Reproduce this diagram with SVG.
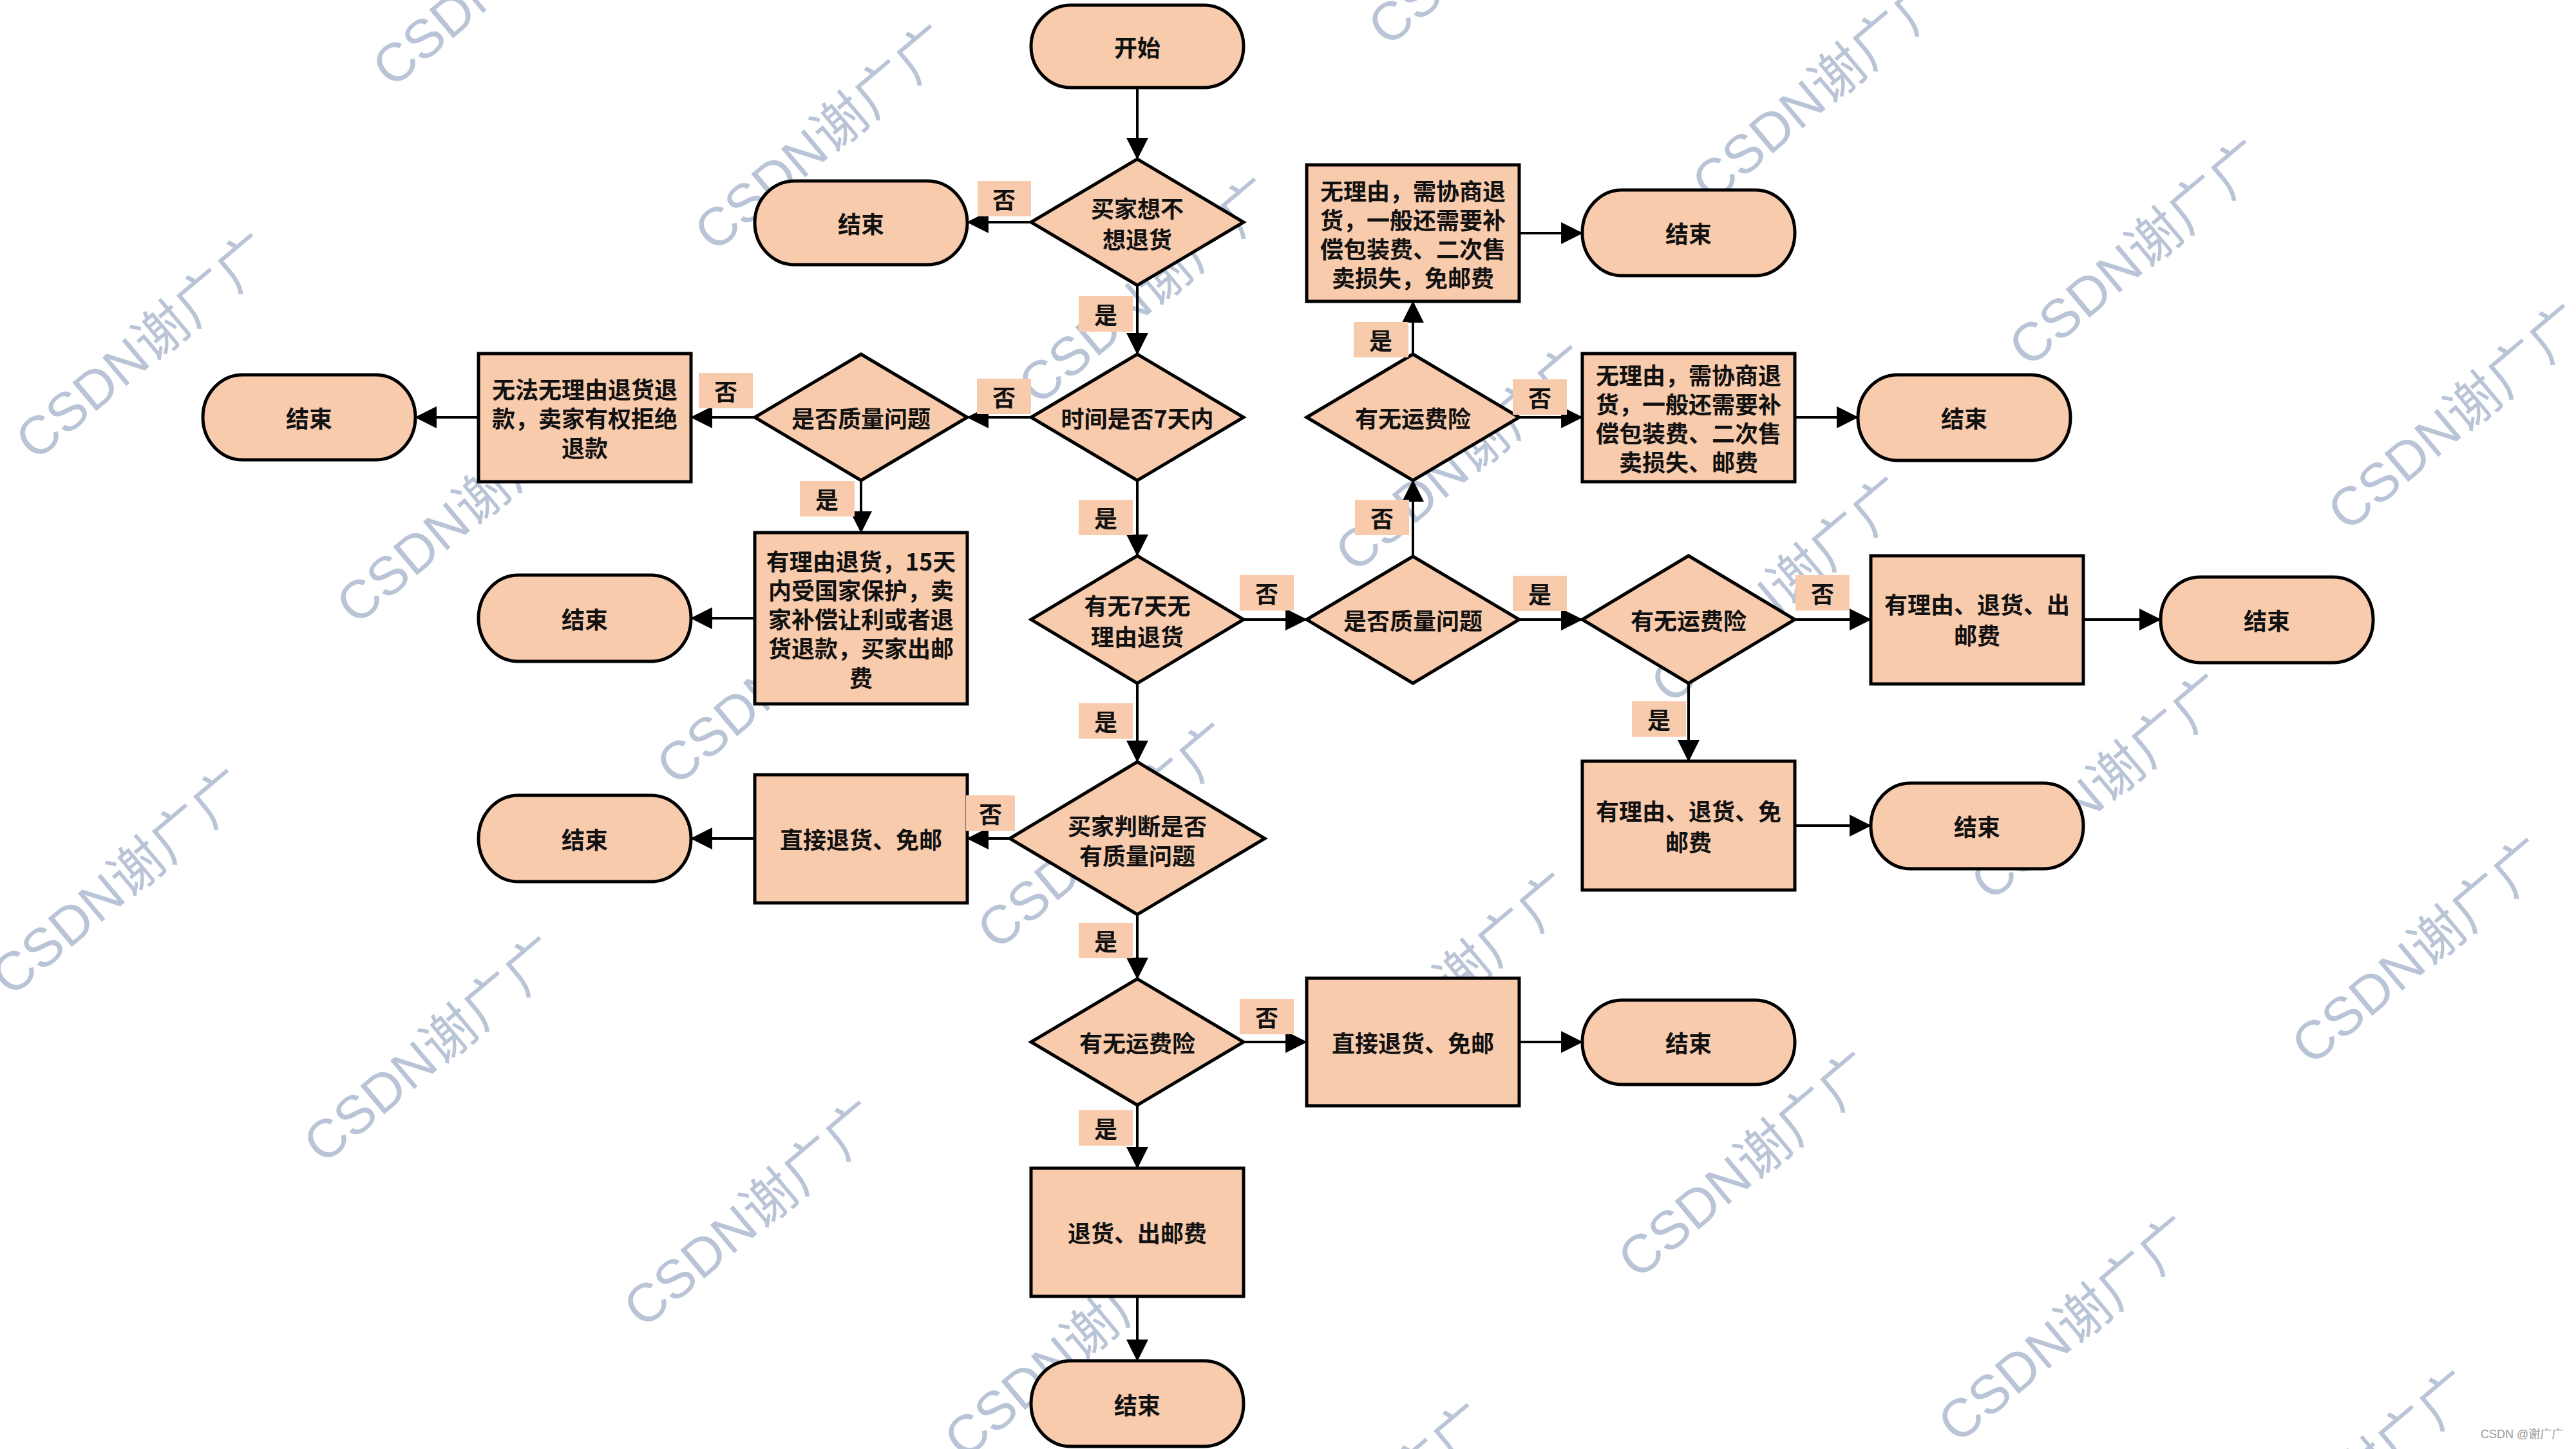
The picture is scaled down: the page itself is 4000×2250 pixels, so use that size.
<svg xmlns="http://www.w3.org/2000/svg" width="4000" height="2250" viewBox="0 0 4000 2250">
<defs>
<style>
.n{fill:#F8CBAD;stroke:#000;stroke-width:5}
.t{font-family:"Noto Sans CJK SC","Noto Sans CJK TC",sans-serif;font-weight:700;font-size:36px;text-anchor:middle;dominant-baseline:central;fill:#111}
.lb{fill:#F8CBAD}
.e{stroke:#000;stroke-width:4;fill:none;marker-end:url(#ah)}
.wm{font-family:"Liberation Sans","Noto Sans CJK SC",sans-serif;font-size:84px;fill:#B9C4D6;text-anchor:middle;dominant-baseline:central}
.sm{font-family:"Liberation Sans","Noto Sans CJK SC",sans-serif;font-size:18px;fill:#999}
</style>
<marker id="ah" markerUnits="userSpaceOnUse" markerWidth="34" markerHeight="34" viewBox="0 0 32 32" refX="31" refY="16" orient="auto">
<path d="M0,0 L32,16 L0,32 Z" fill="#000"/>
</marker>
</defs>
<rect width="4000" height="2250" fill="#fff"/>
<g id="watermarks">
<text class="wm" transform="translate(778,-41) rotate(-40)">CSDN谢广广</text>
<text class="wm" transform="translate(1278,214) rotate(-40)">CSDN谢广广</text>
<text class="wm" transform="translate(224,538) rotate(-40)">CSDN谢广广</text>
<text class="wm" transform="translate(722,793) rotate(-40)">CSDN谢广广</text>
<text class="wm" transform="translate(1781,452) rotate(-40)">CSDN谢广广</text>
<text class="wm" transform="translate(1219,1043) rotate(-40)">CSDN谢广广</text>
<text class="wm" transform="translate(186,1370) rotate(-40)">CSDN谢广广</text>
<text class="wm" transform="translate(671,1630) rotate(-40)">CSDN谢广广</text>
<text class="wm" transform="translate(1717,1298) rotate(-40)">CSDN谢广广</text>
<text class="wm" transform="translate(1168,1885) rotate(-40)">CSDN谢广广</text>
<text class="wm" transform="translate(1666,2089) rotate(-40)">CSDN谢广广</text>
<text class="wm" transform="translate(2324,-105) rotate(-40)">CSDN谢广广</text>
<text class="wm" transform="translate(2827,138) rotate(-40)">CSDN谢广广</text>
<text class="wm" transform="translate(3319,393) rotate(-40)">CSDN谢广广</text>
<text class="wm" transform="translate(3814,648) rotate(-40)">CSDN谢广广</text>
<text class="wm" transform="translate(2273,712) rotate(-40)">CSDN谢广广</text>
<text class="wm" transform="translate(2763,916) rotate(-40)">CSDN谢广广</text>
<text class="wm" transform="translate(3260,1222) rotate(-40)">CSDN谢广广</text>
<text class="wm" transform="translate(3758,1477) rotate(-40)">CSDN谢广广</text>
<text class="wm" transform="translate(2245,1531) rotate(-40)">CSDN谢广广</text>
<text class="wm" transform="translate(2712,1809) rotate(-40)">CSDN谢广广</text>
<text class="wm" transform="translate(3209,2064) rotate(-40)">CSDN谢广广</text>
<text class="wm" transform="translate(3643,2304) rotate(-40)">CSDN谢广广</text>
<text class="wm" transform="translate(2112,2355) rotate(-40)">CSDN谢广广</text>
</g>
<g id="nodes">
<g id="start"><rect class="n" x="1601" y="8" width="330" height="128" rx="62" ry="64"/><text class="t" x="1766" y="72">开始</text></g>
<g id="d1"><path class="n" d="M1766,247 L1931,345 L1766,443 L1601,345 Z"/><text class="t" x="1766" y="322">买家想不</text><text class="t" x="1766" y="370">想退货</text></g>
<g id="end1"><rect class="n" x="1172" y="281" width="330" height="130" rx="62" ry="65"/><text class="t" x="1337" y="346">结束</text></g>
<g id="d2"><path class="n" d="M1766,550 L1931,648 L1766,746 L1601,648 Z"/><text class="t" x="1766" y="648">时间是否7天内</text></g>
<g id="d3"><path class="n" d="M1337,550 L1502,648 L1337,746 L1172,648 Z"/><text class="t" x="1337" y="648">是否质量问题</text></g>
<g id="b3"><rect class="n" x="743" y="549" width="330" height="199"/><text class="t" x="908" y="603">无法无理由退货退</text><text class="t" x="908" y="648">款，卖家有权拒绝</text><text class="t" x="908" y="694">退款</text></g>
<g id="end2"><rect class="n" x="315" y="582" width="330" height="132" rx="62" ry="66"/><text class="t" x="480" y="648">结束</text></g>
<g id="b4"><rect class="n" x="1172" y="827" width="330" height="266"/><text class="t" x="1337" y="870">有理由退货，15天</text><text class="t" x="1337" y="915">内受国家保护，卖</text><text class="t" x="1337" y="960">家补偿让利或者退</text><text class="t" x="1337" y="1005">货退款，买家出邮</text><text class="t" x="1337" y="1051">费</text></g>
<g id="end3"><rect class="n" x="743" y="893" width="330" height="134" rx="62" ry="67"/><text class="t" x="908" y="960">结束</text></g>
<g id="d4"><path class="n" d="M1766,863 L1931,962 L1766,1061 L1601,962 Z"/><text class="t" x="1766" y="939">有无7天无</text><text class="t" x="1766" y="987">理由退货</text></g>
<g id="d5"><path class="n" d="M2194,864 L2359,962 L2194,1061 L2029,962 Z"/><text class="t" x="2194" y="962">是否质量问题</text></g>
<g id="d6"><path class="n" d="M2194,550 L2359,648 L2194,746 L2029,648 Z"/><text class="t" x="2194" y="648">有无运费险</text></g>
<g id="b1"><rect class="n" x="2029" y="256" width="330" height="212"/><text class="t" x="2194" y="295">无理由，需协商退</text><text class="t" x="2194" y="340">货，一般还需要补</text><text class="t" x="2194" y="385">偿包装费、二次售</text><text class="t" x="2194" y="430">卖损失，免邮费</text></g>
<g id="end5"><rect class="n" x="2457" y="295" width="330" height="133" rx="62" ry="66"/><text class="t" x="2622" y="361">结束</text></g>
<g id="b2"><rect class="n" x="2457" y="549" width="330" height="199"/><text class="t" x="2622" y="581">无理由，需协商退</text><text class="t" x="2622" y="626">货，一般还需要补</text><text class="t" x="2622" y="671">偿包装费、二次售</text><text class="t" x="2622" y="716">卖损失、邮费</text></g>
<g id="end6"><rect class="n" x="2885" y="582" width="330" height="133" rx="62" ry="66"/><text class="t" x="3050" y="648">结束</text></g>
<g id="d7"><path class="n" d="M2622,863 L2787,962 L2622,1061 L2457,962 Z"/><text class="t" x="2622" y="962">有无运费险</text></g>
<g id="b5"><rect class="n" x="2905" y="863" width="330" height="199"/><text class="t" x="3070" y="937">有理由、退货、出</text><text class="t" x="3070" y="985">邮费</text></g>
<g id="end7"><rect class="n" x="3355" y="896" width="330" height="133" rx="62" ry="66"/><text class="t" x="3520" y="962">结束</text></g>
<g id="b6"><rect class="n" x="2457" y="1182" width="330" height="200"/><text class="t" x="2622" y="1258">有理由、退货、免</text><text class="t" x="2622" y="1306">邮费</text></g>
<g id="end8"><rect class="n" x="2905" y="1216" width="330" height="133" rx="62" ry="66"/><text class="t" x="3070" y="1282">结束</text></g>
<g id="d8"><path class="n" d="M1766,1183 L1964,1302 L1766,1420 L1568,1302 Z"/><text class="t" x="1766" y="1281">买家判断是否</text><text class="t" x="1766" y="1327">有质量问题</text></g>
<g id="b7"><rect class="n" x="1172" y="1203" width="330" height="199"/><text class="t" x="1337" y="1302">直接退货、免邮</text></g>
<g id="end4"><rect class="n" x="743" y="1235" width="330" height="134" rx="62" ry="67"/><text class="t" x="908" y="1302">结束</text></g>
<g id="d9"><path class="n" d="M1766,1520 L1931,1618 L1766,1716 L1601,1618 Z"/><text class="t" x="1766" y="1618">有无运费险</text></g>
<g id="b8"><rect class="n" x="2029" y="1519" width="330" height="198"/><text class="t" x="2194" y="1618">直接退货、免邮</text></g>
<g id="end9"><rect class="n" x="2457" y="1553" width="330" height="131" rx="62" ry="65"/><text class="t" x="2622" y="1618">结束</text></g>
<g id="b9"><rect class="n" x="1601" y="1814" width="330" height="199"/><text class="t" x="1766" y="1913">退货、出邮费</text></g>
<g id="end10"><rect class="n" x="1601" y="2113" width="330" height="133" rx="62" ry="66"/><text class="t" x="1766" y="2180">结束</text></g>
</g>
<g id="connectors">
<path class="e" d="M1766,136 V247"/>
<path class="e" d="M1601,345 H1502"/>
<path class="e" d="M1766,443 V550"/>
<path class="e" d="M1601,648 H1502"/>
<path class="e" d="M1172,648 H1073"/>
<path class="e" d="M743,648 H645"/>
<path class="e" d="M1337,746 V827"/>
<path class="e" d="M1172,960 H1073"/>
<path class="e" d="M1766,746 V863"/>
<path class="e" d="M1931,962 H2029"/>
<path class="e" d="M2194,864 V746"/>
<path class="e" d="M2194,550 V468"/>
<path class="e" d="M2359,362 H2457"/>
<path class="e" d="M2359,648 H2457"/>
<path class="e" d="M2787,648 H2885"/>
<path class="e" d="M2359,962 H2457"/>
<path class="e" d="M2787,962 H2905"/>
<path class="e" d="M3235,962 H3355"/>
<path class="e" d="M2622,1061 V1182"/>
<path class="e" d="M2787,1282 H2905"/>
<path class="e" d="M1766,1061 V1183"/>
<path class="e" d="M1568,1302 H1502"/>
<path class="e" d="M1172,1302 H1073"/>
<path class="e" d="M1766,1420 V1520"/>
<path class="e" d="M1931,1618 H2029"/>
<path class="e" d="M2359,1618 H2457"/>
<path class="e" d="M1766,1716 V1814"/>
<path class="e" d="M1766,2013 V2113"/>
<g id="labels">
<rect class="lb" x="1518" y="281" width="83" height="55"/><text class="t" x="1559" y="308">否</text>
<rect class="lb" x="1675" y="460" width="84" height="55"/><text class="t" x="1717" y="487">是</text>
<rect class="lb" x="1517" y="588" width="84" height="55"/><text class="t" x="1559" y="615">否</text>
<rect class="lb" x="1085" y="579" width="84" height="55"/><text class="t" x="1127" y="606">否</text>
<rect class="lb" x="1242" y="747" width="85" height="55"/><text class="t" x="1284" y="774">是</text>
<rect class="lb" x="1675" y="776" width="84" height="55"/><text class="t" x="1717" y="803">是</text>
<rect class="lb" x="1925" y="893" width="84" height="55"/><text class="t" x="1967" y="920">否</text>
<rect class="lb" x="2104" y="776" width="84" height="55"/><text class="t" x="2146" y="803">否</text>
<rect class="lb" x="2102" y="500" width="85" height="55"/><text class="t" x="2144" y="527">是</text>
<rect class="lb" x="2349" y="589" width="84" height="55"/><text class="t" x="2391" y="616">否</text>
<rect class="lb" x="2349" y="894" width="84" height="55"/><text class="t" x="2391" y="921">是</text>
<rect class="lb" x="2788" y="893" width="84" height="55"/><text class="t" x="2830" y="920">否</text>
<rect class="lb" x="2534" y="1089" width="84" height="55"/><text class="t" x="2576" y="1116">是</text>
<rect class="lb" x="1675" y="1092" width="84" height="55"/><text class="t" x="1717" y="1119">是</text>
<rect class="lb" x="1500" y="1235" width="76" height="55"/><text class="t" x="1538" y="1262">否</text>
<rect class="lb" x="1675" y="1433" width="84" height="55"/><text class="t" x="1717" y="1460">是</text>
<rect class="lb" x="1925" y="1551" width="84" height="55"/><text class="t" x="1967" y="1578">否</text>
<rect class="lb" x="1675" y="1724" width="84" height="55"/><text class="t" x="1717" y="1751">是</text>
</g>
</g>
<text class="sm" x="3852" y="2233">CSDN @谢广广</text>
</svg>
